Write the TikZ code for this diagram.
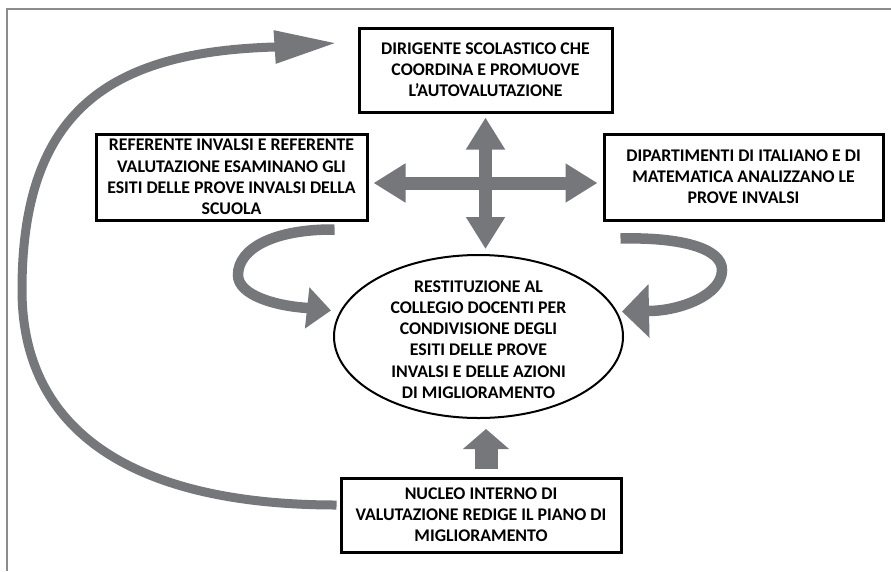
\documentclass[tikz,border=0pt]{standalone}
\usepackage{fontspec}
\setmainfont{Carlito}
\usetikzlibrary{arrows.meta,shapes.geometric,calc}
\definecolor{arrowgray}{RGB}{118,119,123}
\definecolor{framegray}{RGB}{140,140,140}
\begin{document}
\begin{tikzpicture}[x=1pt,y=-1pt,
  txt/.style={align=center,font=\bfseries\fontsize{17.8}{21.2}\selectfont,inner sep=0pt},
  box/.style={txt,draw,line width=3pt,rectangle},
  oval/.style={draw,line width=2pt,ellipse,inner sep=0pt},
  garrow/.style={draw=arrowgray,line cap=butt},
  crossarrow/.style={garrow,line width=13pt,{Triangle[length=32pt,width=37pt]}-{Triangle[length=32pt,width=37pt]}},
  uparrow/.style={garrow,line width=23pt,-{Triangle[length=20pt,width=45pt]}},
  bigarc/.style={garrow,line width=9pt,-{Triangle[length=62pt,width=31pt]}},
  leftcurl/.style={garrow,line width=10.5pt,-{Triangle[length=24pt,width=40pt]}},
  rightcurl/.style={garrow,line width=10.5pt,-{Triangle[length=27pt,width=52pt]}},
  frameline/.style={draw=framegray,line width=1.3pt}]
\useasboundingbox (0,0) rectangle (891,571);
\fill[white] (0,0) rectangle (891,571);
\draw[frameline] (7,571) -- (7,9) -- (891,9);

\node[box,minimum width=253pt,minimum height=84pt] (dir) at (485.5,70)
  {DIRIGENTE SCOLASTICO CHE\\COORDINA E PROMUOVE\\L’AUTOVALUTAZIONE};
\node[box,minimum width=271pt,minimum height=86pt] (ref) at (231.5,177)
  {REFERENTE INVALSI E REFERENTE\\VALUTAZIONE ESAMINANO GLI\\ESITI DELLE PROVE INVALSI DELLA\\SCUOLA};
\node[box,minimum width=279pt,minimum height=86pt] (dip) at (743.5,177)
  {DIPARTIMENTI DI ITALIANO E DI\\MATEMATICA ANALIZZANO LE\\PROVE INVALSI};
\node[box,minimum width=280pt,minimum height=74pt] (nuc) at (481,515)
  {NUCLEO INTERNO DI\\VALUTAZIONE REDIGE IL PIANO DI\\MIGLIORAMENTO};
\node[oval,minimum width=289pt,minimum height=163pt] (rest) at (478.5,336.5) {};
\node[txt] (restt) at ($(rest.center)+(0,3)$)
  {RESTITUZIONE AL\\COLLEGIO DOCENTI PER\\CONDIVISIONE DEGLI\\ESITI DELLE PROVE\\INVALSI E DELLE AZIONI\\DI MIGLIORAMENTO};

% cross of arrows
\draw[crossarrow] ($(dir.south)+(0,4)$) -- ($(dir.south |- rest.north)+(0,-5)$);
\draw[crossarrow] ($(ref.east)+(5,6)$) -- ($(dip.west)+(-5,6)$);

% arrow from bottom box up to ellipse
\draw[uparrow] ($(nuc.north)+(5,-8)$) -- ($(nuc.north |- rest.south)+(5,10)$);

% big arc from bottom box to top box
\coordinate (bs) at ($(nuc.west)+(-3,-10)$);
\coordinate (bt) at ($(dir.west)+(-21,-27)$);
\draw[bigarc] (bs) .. controls ($(bs)+(-190,0)$) and (22,440) .. (22,290)
  .. controls (22,110) and (110,52) .. ($(bt)+(-62,4)$) -- (bt);

% left curl
\coordinate (ls) at ($(ref.south east)+(-34,8)$);
\coordinate (lt) at ($(rest.west)+(-2,-26)$);
\draw[leftcurl] (ls) .. controls (275,229) and (238,248) .. (238,275)
  .. controls (238,295) and (275,306) .. (308,308) -- (lt);

% right curl
\coordinate (rs) at ($(dip.south west)+(18,17)$);
\coordinate (rt) at ($(rest.east)+(-2,-25)$);
\draw[rightcurl] (rs) .. controls (680,237) and (722,248) .. (722,270)
  .. controls (722,295) and (680,311) .. (648,311) -- (rt);
\end{tikzpicture}
\end{document}
